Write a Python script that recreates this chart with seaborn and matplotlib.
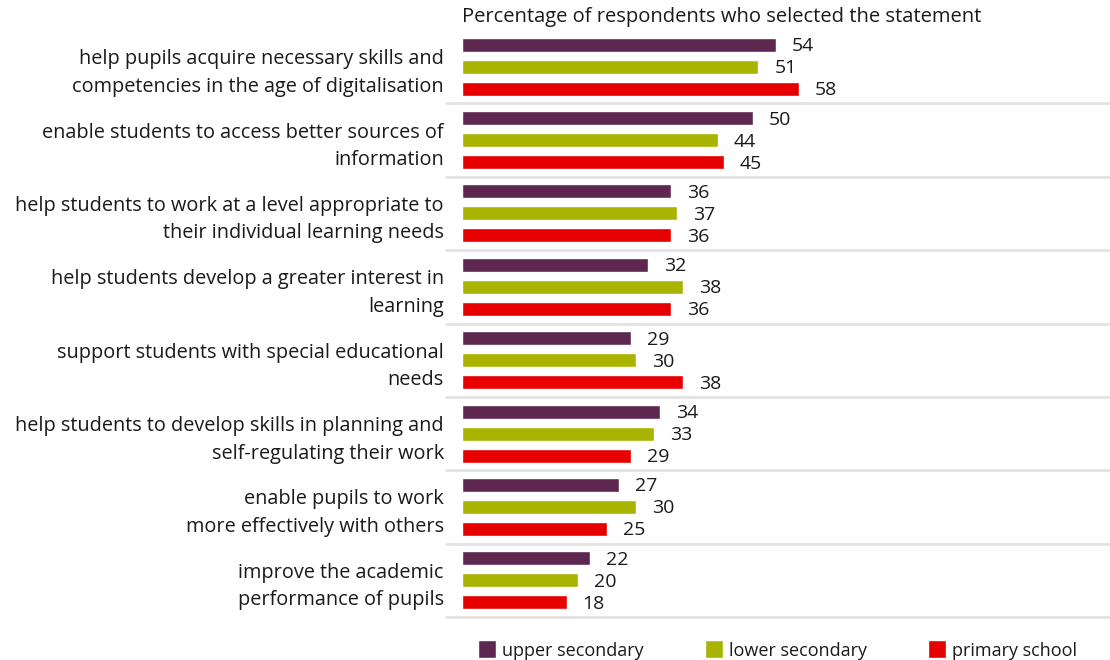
import matplotlib
matplotlib.use("Agg")
import matplotlib.pyplot as plt
import seaborn as sns
import pandas as pd

# Statements (two-line labels) shown top to bottom
statements = [
    "help pupils acquire necessary skills and\ncompetencies in the age of digitalisation",
    "enable students to access better sources of\ninformation",
    "help students to work at a level appropriate to\ntheir individual learning needs",
    "help students develop a greater interest in\nlearning",
    "support students with special educational\nneeds",
    "help students to develop skills in planning and\nself-regulating their work",
    "enable pupils to work\nmore effectively with others",
    "improve the academic\nperformance of pupils",
]
school_levels = ["upper secondary", "lower secondary", "primary school"]
upper_secondary = [54, 50, 36, 32, 29, 34, 27, 22]
lower_secondary = [51, 44, 37, 38, 30, 33, 30, 20]
primary_school = [58, 45, 36, 36, 38, 29, 25, 18]
level_colors = ["#5E2750", "#A8B400", "#E60000"]
title_text = "Percentage of respondents who selected the statement"

rows = []
for level, vals in zip(school_levels, [upper_secondary, lower_secondary, primary_school]):
    for stmt, v in zip(statements, vals):
        rows.append({"statement": stmt, "level": level, "pct": v})
df = pd.DataFrame(rows)

sns.set_theme(style="white")
plt.rcParams["font.family"] = ["Open Sans", "DejaVu Sans"]
TXT = "#1a1a1a"

fig = plt.figure(figsize=(11.1, 6.6), dpi=100)
W, H = 1110, 660
ax = fig.add_axes([462 / W, 1 - 617 / H, 1 - 462 / W, (617 - 30) / H])

sns.barplot(
    data=df, y="statement", x="pct", hue="level",
    order=statements, hue_order=school_levels, palette=level_colors,
    orient="h", width=0.9, gap=0.367, dodge=True, ax=ax, legend=True,
    saturation=1, errorbar=None,
)

ax.set_xlim(0, 111.5)
ax.set_ylim(7.5, -0.5)
ax.set_xlabel("")
ax.set_ylabel("")
ax.set_xticks([])
for s in ax.spines.values():
    s.set_visible(False)
ax.tick_params(axis="y", length=0, pad=13)
ax.set_yticks(range(len(statements)), labels=statements,
              fontsize=14.3, linespacing=1.5, color=TXT)

# value labels next to each bar end
for cont in ax.containers:
    for bar in cont:
        ax.annotate(f"{bar.get_width():.0f}",
                    xy=(bar.get_width(), bar.get_y() + bar.get_height() / 2),
                    xytext=(16, -1.5), textcoords="offset pixels",
                    ha="left", va="center", fontsize=14, color=TXT)

# separators between statements
for yy in [0.5 + i for i in range(8)]:
    ax.axhline(yy, xmin=-0.025, xmax=1.0, color="#e3e3e3", lw=2, clip_on=False, zorder=0)

fig.text(462 / W, 1 - 17 / H, title_text, ha="left", va="center",
         fontsize=14.5, color=TXT)

handles, labels = ax.get_legend_handles_labels()
ax.get_legend().remove()
fig.legend(
    handles, labels, loc="center left",
    bbox_to_anchor=(478 / W, 1 - 650 / H), bbox_transform=fig.transFigure,
    ncol=3, frameon=False, fontsize=13, handlelength=1.0, handleheight=1.15,
    handletextpad=0.33, columnspacing=3.4, borderpad=0, borderaxespad=0,
    labelcolor=TXT,
)

fig.savefig("out.png", dpi=100)
